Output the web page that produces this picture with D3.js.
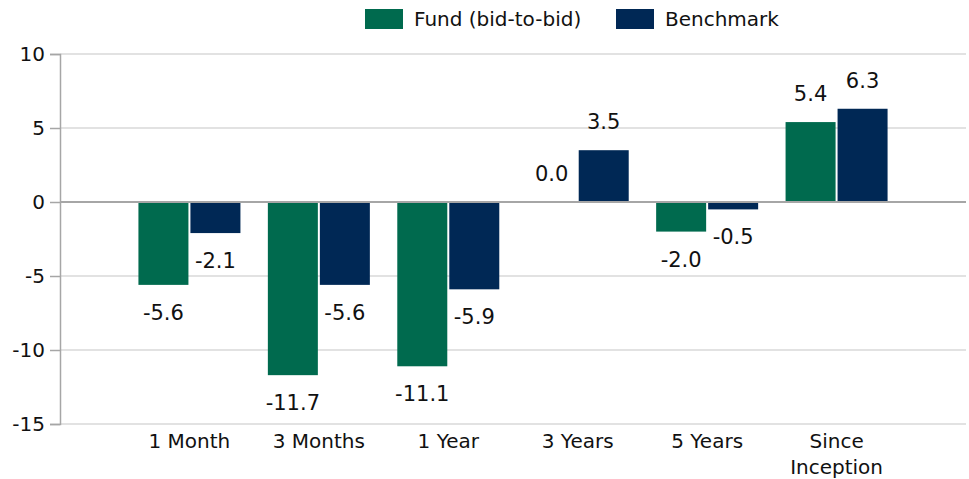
<!DOCTYPE html>
<html>
<head>
<meta charset="utf-8">
<script src="https://cdn.jsdelivr.net/npm/d3@7"></script>
<style>
  html, body { margin: 0; padding: 0; background: #fff; }
  svg { display: block; }
  text { font-family: "DejaVu Sans", sans-serif; fill: #111; }
</style>
</head>
<body>
<svg id="chart" width="969" height="479"></svg>
<script>
const categories = [["1 Month"], ["3 Months"], ["1 Year"], ["3 Years"], ["5 Years"], ["Since", "Inception"]];
const fund = [-5.6, -11.7, -11.1, 0.0, -2.0, 5.4];
const benchmark = [-2.1, -5.6, -5.9, 3.5, -0.5, 6.3];
const seriesNames = ["Fund (bid-to-bid)", "Benchmark"];
const yTicks = [10, 5, 0, -5, -10, -15];

const colors = ["#006A4E", "#002855"];
const M = { left: 60, right: 966, top: 54, bottom: 424 };
const fmtHyphen = f => v => f(v).replace("\u2212", "-");

const svg = d3.select("#chart");
const catKeys = categories.map(c => c.join(" "));
const x = d3.scalePoint().domain(catKeys).range([M.left, M.right]).padding(1);
const y = d3.scaleLinear().domain([-15, 10]).range([M.bottom, M.top]);

// gridlines
svg.append("g").selectAll("line").data(yTicks.filter(t => t !== 0)).join("line")
  .attr("x1", M.left).attr("x2", M.right)
  .attr("y1", d => y(d)).attr("y2", d => y(d))
  .attr("stroke", "#d9d9d9").attr("stroke-width", 1.5);

// y axis
const yAxis = d3.axisLeft(y).tickValues(yTicks).tickSize(10).tickPadding(5).tickFormat(fmtHyphen(d3.format("d")));
const gy = svg.append("g").attr("transform", `translate(${M.left},0)`).call(yAxis);
gy.select(".domain").attr("stroke", "#a6a6a6").attr("stroke-width", 1.5);
gy.selectAll(".tick line").attr("stroke", "#a6a6a6").attr("stroke-width", 1.5);
gy.selectAll(".tick text").style("font-size", "20px").style("font-family", "'DejaVu Sans', sans-serif").attr("fill", "#111");

const bw = 50;
const data = [];
catKeys.forEach((k, i) => {
  data.push({k, s: 0, v: fund[i]});
  data.push({k, s: 1, v: benchmark[i]});
});
const bx = d => d.s === 0 ? x(d.k) - 1 - bw : x(d.k) + 1;

svg.append("g").selectAll("rect").data(data).join("rect")
  .attr("x", bx)
  .attr("width", bw)
  .attr("y", d => Math.min(y(d.v), y(0)))
  .attr("height", d => Math.abs(y(d.v) - y(0)))
  .attr("fill", d => colors[d.s]);

// zero line
svg.append("line").attr("x1", M.left).attr("x2", M.right).attr("y1", y(0)).attr("y2", y(0))
  .attr("stroke", "#a6a6a6").attr("stroke-width", 2);

// value labels
const fmtVal = fmtHyphen(d3.format(".1f"));
svg.append("g").selectAll("text").data(data).join("text")
  .attr("x", d => bx(d) + bw / 2)
  .attr("y", d => d.v >= 0 ? y(d.v) - 28 : y(d.v) + 28)
  .attr("text-anchor", "middle")
  .attr("dominant-baseline", "central")
  .style("font-size", "21px")
  .text(d => fmtVal(d.v));

// category labels
const cg = svg.append("g");
categories.forEach((c, i) => {
  const t = cg.append("text").attr("x", x(catKeys[i])).attr("y", 441)
    .attr("text-anchor", "middle").attr("dominant-baseline", "central").style("font-size", "20px");
  c.forEach((line, j) => {
    t.append("tspan").attr("x", x(catKeys[i])).attr("dy", j === 0 ? 0 : 26).text(line);
  });
});

// legend
const legendX = [365, 616];
const lg = svg.append("g");
seriesNames.forEach((n, i) => {
  lg.append("rect").attr("x", legendX[i]).attr("y", 9).attr("width", 38).attr("height", 20).attr("fill", colors[i]);
  lg.append("text").attr("x", legendX[i] + 49).attr("y", 19).attr("dominant-baseline", "central")
    .style("font-size", "20px").text(n);
});
</script>
</body>
</html>
